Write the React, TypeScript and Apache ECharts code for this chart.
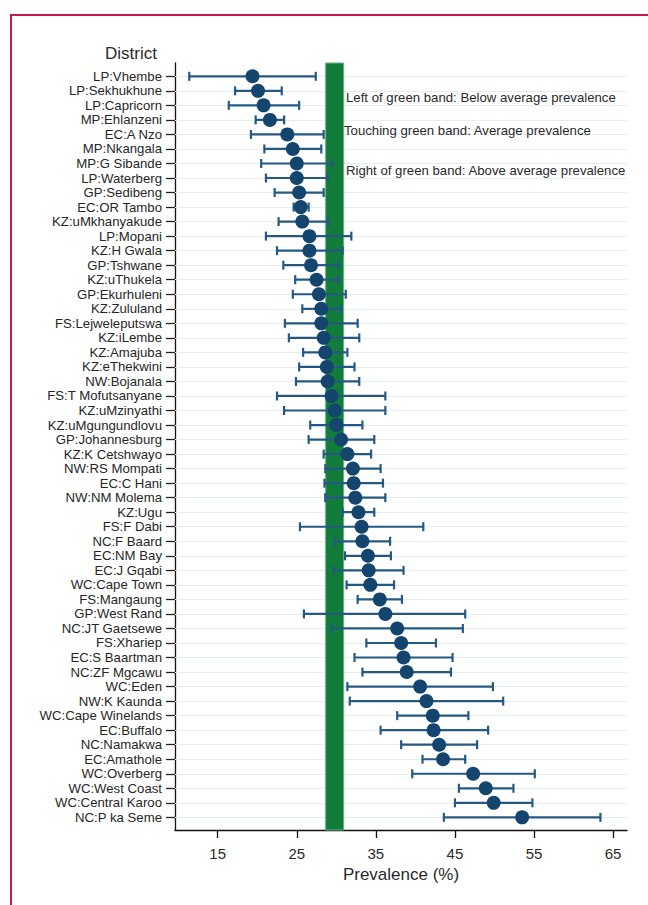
import React, { useEffect, useRef } from "react";
import * as echarts from "echarts";

const districts = [
  "LP:Vhembe", "LP:Sekhukhune", "LP:Capricorn", "MP:Ehlanzeni", "EC:A Nzo",
  "MP:Nkangala", "MP:G Sibande", "LP:Waterberg", "GP:Sedibeng", "EC:OR Tambo",
  "KZ:uMkhanyakude", "LP:Mopani", "KZ:H Gwala", "GP:Tshwane", "KZ:uThukela",
  "GP:Ekurhuleni", "KZ:Zululand", "FS:Lejweleputswa", "KZ:iLembe", "KZ:Amajuba",
  "KZ:eThekwini", "NW:Bojanala", "FS:T Mofutsanyane", "KZ:uMzinyathi", "KZ:uMgungundlovu",
  "GP:Johannesburg", "KZ:K Cetshwayo", "NW:RS Mompati", "EC:C Hani", "NW:NM Molema",
  "KZ:Ugu", "FS:F Dabi", "NC:F Baard", "EC:NM Bay", "EC:J Gqabi",
  "WC:Cape Town", "FS:Mangaung", "GP:West Rand", "NC:JT Gaetsewe", "FS:Xhariep",
  "EC:S Baartman", "NC:ZF Mgcawu", "WC:Eden", "NW:K Kaunda", "WC:Cape Winelands",
  "EC:Buffalo", "NC:Namakwa", "EC:Amathole", "WC:Overberg", "WC:West Coast",
  "WC:Central Karoo", "NC:P ka Seme",
];

const estimates = [
  19.4, 20.1, 20.8, 21.6, 23.8, 24.5, 25.0, 25.0, 25.3, 25.5,
  25.7, 26.6, 26.6, 26.8, 27.5, 27.8, 28.1, 28.1, 28.4, 28.6,
  28.8, 28.9, 29.4, 29.8, 30.0, 30.6, 31.4, 32.1, 32.2, 32.4,
  32.8, 33.2, 33.3, 34.0, 34.1, 34.3, 35.5, 36.2, 37.7, 38.2,
  38.5, 38.9, 40.6, 41.4, 42.2, 42.3, 43.0, 43.5, 47.3, 48.9,
  49.9, 53.5,
];

const lowerCI = [
  11.4, 17.2, 16.4, 19.8, 19.2, 20.9, 20.5, 21.1, 22.2, 24.6,
  22.7, 21.1, 22.5, 23.3, 24.8, 24.5, 25.7, 23.5, 24.0, 25.8,
  25.3, 24.9, 22.5, 23.4, 26.7, 26.5, 28.4, 28.6, 28.5, 28.6,
  30.8, 25.4, 29.8, 31.1, 29.7, 31.3, 32.7, 25.9, 29.4, 33.8,
  32.3, 33.3, 31.4, 31.7, 37.7, 35.6, 38.2, 40.9, 39.6, 45.5,
  45.0, 43.6,
];

const upperCI = [
  27.4, 23.1, 25.3, 23.4, 28.4, 28.1, 29.5, 28.9, 28.4, 26.5,
  29.0, 31.9, 30.8, 30.3, 30.3, 31.2, 30.6, 32.7, 32.9, 31.4,
  32.3, 32.9, 36.2, 36.2, 33.3, 34.8, 34.4, 35.6, 35.9, 36.2,
  34.8, 41.0, 36.8, 36.9, 38.5, 37.3, 38.3, 46.3, 46.0, 42.6,
  44.7, 44.5, 49.8, 51.1, 46.7, 49.2, 47.8, 46.3, 55.1, 52.4,
  54.8, 63.4,
];

const averageBand = [28.65, 30.93];
const xTickValues = [15, 25, 35, 45, 55, 65];
const annotations = [
  "Left of green band: Below average prevalence",
  "Touching green band: Average prevalence",
  "Right of green band: Above average prevalence",
];

const FONT = "'Liberation Sans', Arial, sans-serif";
const BAR_COLOR = "#255883";
const DOT_COLOR = "#14456e";

export default function App() {
  const ref = useRef<HTMLDivElement>(null);

  useEffect(() => {
    if (!ref.current) return;
    const chart = echarts.init(ref.current, null, { renderer: "svg" });
    const rows = districts.map((_, i) => i + 1);

    const option: any = {
      animation: false,
      backgroundColor: "#ffffff",
      grid: { left: 175, right: 21, top: 63, bottom: 75, containLabel: false },
      xAxis: {
        type: "value",
        min: 9.6,
        max: 66.76,
        name: "Prevalence (%)",
        nameLocation: "middle",
        nameGap: 35,
        nameTextStyle: { fontFamily: FONT, fontSize: 17, color: "#2a2a2a" },
        axisLine: { show: true, lineStyle: { color: "#111", width: 1.3 } },
        axisTick: { show: true, length: 8, customValues: xTickValues, lineStyle: { color: "#111", width: 1.3 } },
        axisLabel: {
          customValues: xTickValues,
          margin: 16,
          fontFamily: FONT,
          fontSize: 15,
          color: "#2a2a2a",
        },
        splitLine: { show: false },
      },
      yAxis: {
        type: "value",
        inverse: true,
        min: 0.085,
        max: 52.87,
        axisLine: { show: true, lineStyle: { color: "#111", width: 1.3 } },
        axisTick: { show: true, length: 9, customValues: rows, lineStyle: { color: "#222", width: 1.3 } },
        axisLabel: {
          customValues: rows,
          margin: 13,
          fontFamily: FONT,
          fontSize: 13.2,
          color: "#262626",
          formatter: (v: number) => districts[Math.round(v) - 1] ?? "",
        },
        splitLine: { show: false },
      },
      graphic: [
        {
          type: "rect",
          shape: { x: 11, y: 15, width: 800, height: 1200 },
          style: { fill: "none", stroke: "#c8194b", lineWidth: 2 },
          silent: true,
        },
        {
          type: "text",
          x: 131,
          y: 53,
          style: { text: "District", fontFamily: FONT, fontSize: 17, fill: "#2a2a2a", textAlign: "center", textVerticalAlign: "middle" },
        },
        {
          type: "text",
          x: 346,
          y: 97.5,
          z: 10,
          style: { text: annotations[0], fontFamily: FONT, fontSize: 13.2, fill: "#2a2a2a", textAlign: "left", textVerticalAlign: "middle" },
        },
        {
          type: "text",
          x: 344,
          y: 130.5,
          z: 10,
          style: { text: annotations[1], fontFamily: FONT, fontSize: 13.2, fill: "#2a2a2a", textAlign: "left", textVerticalAlign: "middle" },
        },
        {
          type: "text",
          x: 346,
          y: 170.5,
          z: 10,
          style: { text: annotations[2], fontFamily: FONT, fontSize: 13.2, fill: "#2a2a2a", textAlign: "left", textVerticalAlign: "middle" },
        },
      ],
      series: [
        {
          type: "line",
          data: [],
          z: 1,
          silent: true,
          markLine: {
            z: 1,
            silent: true,
            symbol: ["none", "none"],
            label: { show: false },
            lineStyle: { color: "#e3eef0", width: 1.2, type: "solid" },
            data: rows.map((r) => ({ yAxis: r })),
          },
        },
        {
          type: "line",
          data: [],
          z: 2,
          silent: true,
          markArea: {
            z: 2,
            silent: true,
            itemStyle: { color: "#127c3b", borderColor: "#69b383", borderWidth: 1 },
            data: [[{ xAxis: averageBand[0] }, { xAxis: averageBand[1] }]],
          },
        },
        {
          type: "custom",
          z: 3,
          data: rows.map((r, i) => [r, lowerCI[i], upperCI[i]]),
          renderItem: (params: any, api: any) => {
            const y = api.value(0);
            const p1 = api.coord([api.value(1), y]);
            const p2 = api.coord([api.value(2), y]);
            const h = 4.5;
            const mk = () => ({ stroke: BAR_COLOR, lineWidth: 2.2, fill: null });
            return {
              type: "group",
              children: [
                { type: "line", z2: 1, shape: { x1: p1[0], y1: p1[1], x2: p2[0], y2: p2[1] }, style: mk() },
                { type: "line", z2: 1, shape: { x1: p1[0], y1: p1[1] - h, x2: p1[0], y2: p1[1] + h }, style: mk() },
                { type: "line", z2: 1, shape: { x1: p2[0], y1: p2[1] - h, x2: p2[0], y2: p2[1] + h }, style: mk() },
              ],
            };
          },
        },
        {
          type: "scatter",
          z: 4,
          symbol: "circle",
          symbolSize: 14,
          itemStyle: { color: DOT_COLOR, opacity: 1 },
          data: rows.map((r, i) => [estimates[i], r]),
        },
      ],
    };

    chart.setOption(option);
    return () => chart.dispose();
  }, []);

  return (
    <div
      ref={ref}
      style={{ position: "fixed", left: 0, top: 0, width: 648, height: 905, background: "#fff" }}
    />
  );
}
